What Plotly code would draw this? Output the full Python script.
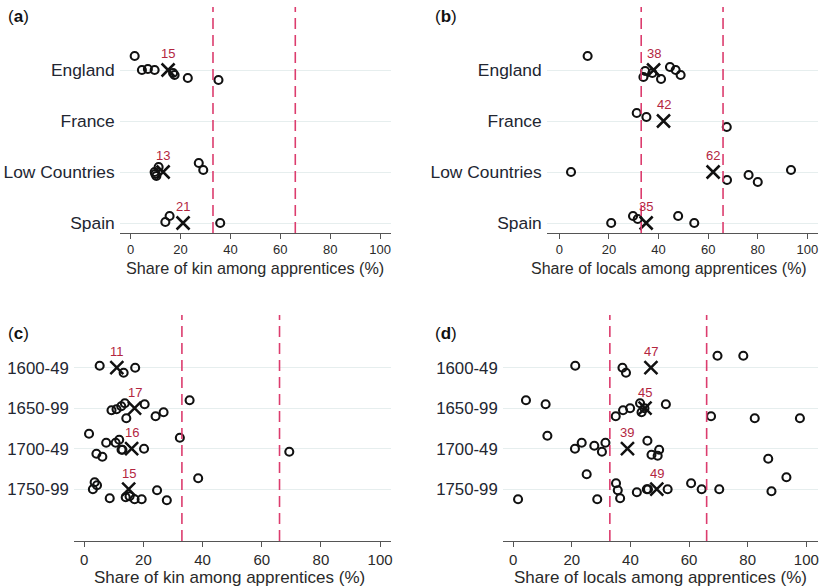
import plotly.graph_objects as go

W, H = 836, 588

# ---- data -------------------------------------------------------------
region_cats = ["England", "France", "Low Countries", "Spain"]
period_cats = ["1600-49", "1650-99", "1700-49", "1750-99"]

# share of kin among apprentices, by region (one list per category)
kin_region_vals = [
    [1.6, 4.5, 6.9, 9.6, 17.0, 17.6, 22.9, 35.2],
    [],
    [11.2, 9.6, 10.3, 9.9, 27.3, 29.1],
    [13.9, 15.6, 35.9],
]
kin_region_jit = [
    [-14, 0, -1, 0, 3, 5, 8, 10],
    [],
    [-5, 0, 4, 2, -9, -2],
    [-1, -7, 0],
]
kin_region_means = [15, None, 13, 21]

# share of locals among apprentices, by region
loc_region_vals = [
    [11.4, 33.9, 34.6, 37.5, 41.0, 44.6, 46.9, 48.9],
    [31.2, 35.1, 67.5],
    [4.7, 67.6, 76.3, 80.0, 93.4],
    [20.9, 29.7, 31.6, 47.9, 54.4],
]
loc_region_jit = [
    [-14, 7, 1, 3, 9, -3, 0, 5],
    [-8, -4, 6],
    [0, 8, 3, 10, -2],
    [0, -7, -4, -7, 0],
]
loc_region_means = [38, 42, 62, 35]

# share of kin among apprentices, by period
kin_period_vals = [
    [5.2, 13.3, 17.2],
    [9.2, 10.9, 12.5, 13.7, 14.2, 20.4, 24.1, 26.8, 35.6],
    [1.6, 4.1, 6.1, 7.4, 10.6, 11.8, 12.6, 12.9, 20.2, 32.3, 69.3],
    [2.9, 3.5, 4.3, 8.6, 14.0, 15.3, 17.0, 19.4, 24.6, 27.9, 38.5],
]
kin_period_jit = [
    [-2, 5, 0],
    [2, 1, -2, -5, 10, -4, 8, 4, -8],
    [-15, 5, 8, -6, -6, -9, 1, 1, 0, -11, 3],
    [0, -7, -4, 9, 8, 7, 10, 10, 1, 11, -11],
]
kin_period_means = [11, 17, 16, 15]

# share of locals among apprentices, by period
loc_period_vals = [
    [21.2, 37.3, 38.5, 69.7, 78.5],
    [4.4, 11.1, 35.0, 37.5, 39.9, 43.3, 43.8, 44.8, 52.1, 67.5, 82.4, 97.8],
    [11.7, 21.1, 23.4, 27.7, 30.3, 31.5, 45.8, 47.2, 49.3, 49.8, 87.0],
    [1.7, 25.1, 28.7, 35.1, 35.7, 36.5, 42.2, 45.6, 46.0, 52.7, 60.7, 64.3,
     70.3, 88.1, 93.2],
]
loc_period_jit = [
    [-2, 0, 5, -12, -12],
    [-8, -4, 8, 2, 0, -5, 4, 0, -4, 8, 10, 10],
    [-13, 0, -6, -3, 3, -6, -8, 6, 7, 1, 10],
    [10, -15, 10, -6, 1, 9, 3, 0, 0, 0, -6, 0, 0, 2, -12],
]
loc_period_means = [47, 45, 39, 49]

thresholds = [33, 66]
x_ticks = [0, 20, 40, 60, 80, 100]

title_kin = "Share of kin among apprentices (%)"
title_loc = "Share of locals among apprentices (%)"

# ---- layout of the four panels (pixel geometry) ------------------------
panels = [
    dict(letter="a", cats=region_cats, vals=kin_region_vals, jit=kin_region_jit,
         means=kin_region_means, title=title_kin,
         xdom=(120, 392), x0=131, x100=381, ydom=(7, 233), row_top=70, spacing=51,
         title_pos=(256, 268), letter_pos=(6, 16), tick_font=13, tick_gap=-1,
         label_font=17.4, title_font=16.2),
    dict(letter="b", cats=region_cats, vals=loc_region_vals, jit=loc_region_jit,
         means=loc_region_means, title=title_loc,
         xdom=(548, 820), x0=560.7, x100=809.3, ydom=(7, 233), row_top=70, spacing=51,
         title_pos=(671, 268), letter_pos=(434, 16), tick_font=13, tick_gap=-1,
         label_font=17.4, title_font=16),
    dict(letter="c", cats=period_cats, vals=kin_period_vals, jit=kin_period_jit,
         means=kin_period_means, title=title_kin,
         xdom=(74, 392), x0=84.5, x100=381, ydom=(315, 541), row_top=367.7, spacing=40.5,
         title_pos=(230, 577), letter_pos=(6, 333), tick_font=15, tick_gap=0,
         label_font=16.8, title_font=17),
    dict(letter="d", cats=period_cats, vals=loc_period_vals, jit=loc_period_jit,
         means=loc_period_means, title=title_loc,
         xdom=(504, 820), x0=514.3, x100=808.3, ydom=(315, 541), row_top=367.7, spacing=40.5,
         title_pos=(662, 577), letter_pos=(434, 333), tick_font=15, tick_gap=0,
         label_font=16.8, title_font=17),
]

FONT = "Liberation Sans, Arial, sans-serif"
MEAN_RED = "#b3263f"
DASH_RED = "#dc3c6e"


def fx(px):
    return px / W


def fy(px):
    return 1 - px / H


fig = go.Figure()
annotations = []
shapes = []

for k, p in enumerate(panels, start=1):
    sfx = "" if k == 1 else str(k)
    xa, ya = "x" + sfx, "y" + sfx
    n = len(p["cats"])
    rows = [n - i for i in range(n)]  # first category on top

    ppu = (p["x100"] - p["x0"]) / 100.0
    xmin = (p["xdom"][0] - p["x0"]) / ppu
    xmax = (p["xdom"][1] - p["x0"]) / ppu
    ymax = rows[0] + (p["row_top"] - p["ydom"][0]) / p["spacing"]
    ymin = rows[0] - (p["ydom"][1] - p["row_top"]) / p["spacing"]

    # individual observations (open circles, vertically jittered)
    xs, ys = [], []
    for r, vals, jit in zip(rows, p["vals"], p["jit"]):
        for v, j in zip(vals, jit):
            xs.append(v)
            ys.append(r - j / p["spacing"])
    fig.add_trace(go.Scatter(
        x=xs, y=ys, mode="markers", xaxis=xa, yaxis=ya, showlegend=False,
        marker=dict(symbol="circle-open", size=8, color="#111",
                    line=dict(width=2.1, color="#111")),
        hoverinfo="x"))

    # group means (crosses) with their value labels
    mx = [m for m in p["means"] if m is not None]
    my = [r for r, m in zip(rows, p["means"]) if m is not None]
    fig.add_trace(go.Scatter(
        x=mx, y=my, mode="markers", xaxis=xa, yaxis=ya, showlegend=False,
        marker=dict(symbol="x-thin-open", size=13, color="#111",
                    line=dict(width=2.5, color="#111")),
        hoverinfo="x"))
    for m, r in zip(mx, my):
        annotations.append(dict(
            x=m, y=r, xref=xa, yref=ya, text=str(m), showarrow=False,
            yshift=16, font=dict(family=FONT, size=13, color=MEAN_RED)))

    # reference thresholds
    for t in thresholds:
        shapes.append(dict(
            type="line", xref=xa, yref=ya + " domain", x0=t, x1=t, y0=0, y1=1,
            line=dict(color=DASH_RED, width=1.6, dash="11px,6px")))

    fig.layout["xaxis" + sfx] = dict(
        domain=[fx(p["xdom"][0]), fx(p["xdom"][1])], anchor=ya,
        range=[xmin, xmax], tickvals=x_ticks, showgrid=False, zeroline=False,
        showline=True, linecolor="#555", linewidth=1.3,
        ticks="outside", ticklen=5, tickwidth=1.2, tickcolor="#555",
        ticklabelstandoff=p["tick_gap"],
        tickfont=dict(family=FONT, size=p["tick_font"], color="#2a2a2a"))
    fig.layout["yaxis" + sfx] = dict(
        domain=[fy(p["ydom"][1]), fy(p["ydom"][0])], anchor=xa,
        range=[ymin, ymax], tickvals=rows, ticktext=p["cats"],
        showgrid=True, gridcolor="#e6eeee", gridwidth=1, zeroline=False,
        showline=False, ticks="", ticklabelstandoff=4,
        tickfont=dict(family=FONT, size=p["label_font"], color="#222631"))

    annotations.append(dict(
        x=fx(p["title_pos"][0]), y=fy(p["title_pos"][1]), xref="paper", yref="paper",
        text=p["title"], showarrow=False, xanchor="center", yanchor="middle",
        font=dict(family=FONT, size=p["title_font"], color="#2a2a2a")))
    annotations.append(dict(
        x=fx(p["letter_pos"][0]), y=fy(p["letter_pos"][1]), xref="paper", yref="paper",
        text="(<b>%s</b>)" % p["letter"], showarrow=False, xanchor="left",
        yanchor="middle", font=dict(family=FONT, size=17, color="#111")))

fig.update_layout(
    width=W, height=H, margin=dict(l=0, r=0, t=0, b=0),
    paper_bgcolor="white", plot_bgcolor="white",
    annotations=annotations, shapes=shapes,
)

fig.write_html("out.html")
